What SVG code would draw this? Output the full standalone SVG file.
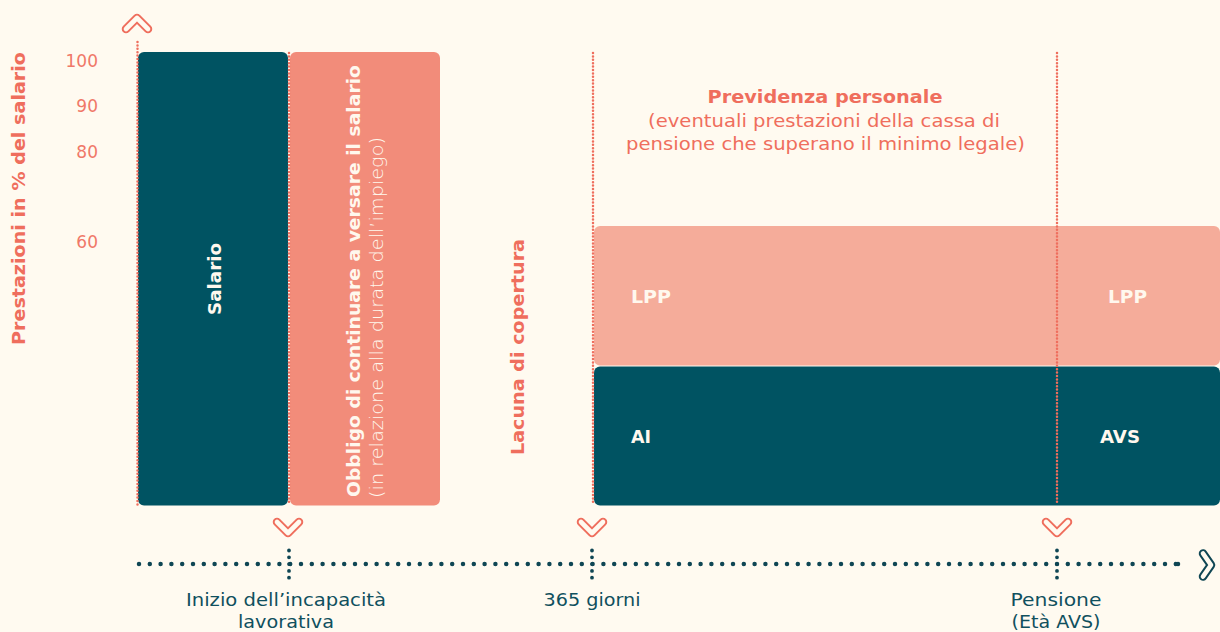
<svg xmlns="http://www.w3.org/2000/svg" width="1220" height="632" viewBox="0 0 1220 632">
<style>
.bg{fill:#FFFAF0}
.teal{fill:#005362}
.salmon{fill:#F28C7A}
.light{fill:#F5AC9A}
.t{font-family:"DejaVu Sans","Liberation Sans",sans-serif}
.b{font-weight:bold}
.ts{fill:#EF6E5D}
.tn{fill:#F07868}
.tw{fill:#FFF8EE}
.td{fill:#10505E}
.vdot{fill:none;stroke:#EF6E5D;stroke-width:2.5;stroke-dasharray:0 3.4;stroke-linecap:round}
.hdot{fill:none;stroke:#0F4654;stroke-width:4.5;stroke-dasharray:0 10.8;stroke-linecap:round}
.tick{fill:none;stroke:#0F4654;stroke-width:3.8;stroke-dasharray:0 6.8;stroke-linecap:round}
.chevO{fill:none;stroke-width:8.5;stroke-linecap:round;stroke-linejoin:round}
.chevI{fill:none;stroke:#FFFAF0;stroke-width:4.6;stroke-linecap:round;stroke-linejoin:round}
</style>
<defs>
<g id="chevDown"><path class="chevO" stroke="#EF6E5D" d="M-11 -6 L0 5 L11 -6"/><path class="chevI" d="M-11 -6 L0 5 L11 -6"/></g>
</defs>
<rect class="bg" x="0" y="0" width="1220" height="632"/>

<g id="axis-y">
<text class="t b ts" font-size="17.5" transform="translate(25,198.5) rotate(-90)" text-anchor="middle" textLength="293" lengthAdjust="spacingAndGlyphs">Prestazioni in % del salario</text>
<g class="t tn" font-size="17" text-anchor="end">
<text x="98" y="67">100</text>
<text x="98" y="112">90</text>
<text x="98" y="158">80</text>
<text x="98" y="248">60</text>
</g>
</g>

<g id="node-salario">
<rect class="teal" x="138" y="52" width="150" height="453.5" rx="6"/>
<text class="t b tw" font-size="17" transform="translate(221,279) rotate(-90)" text-anchor="middle" textLength="72" lengthAdjust="spacingAndGlyphs">Salario</text>
</g>

<g id="node-obbligo">
<rect class="salmon" x="290" y="52" width="150" height="453.5" rx="6"/>
<text class="t b tw" font-size="17.5" transform="translate(360,497) rotate(-90)" textLength="432" lengthAdjust="spacingAndGlyphs">Obbligo di continuare a versare il salario</text>
<text class="t tw" font-size="17" font-weight="300" transform="translate(383,498) rotate(-90)" textLength="361" lengthAdjust="spacingAndGlyphs">(in relazione alla durata dell’impiego)</text>
</g>

<g id="node-lacuna">
<text class="t b ts" font-size="17.5" transform="translate(524,347) rotate(-90)" text-anchor="middle" textLength="216" lengthAdjust="spacingAndGlyphs">Lacuna di copertura</text>
</g>

<g id="node-previdenza">
<text class="t b ts" font-size="18" x="825" y="103" text-anchor="middle" textLength="235" lengthAdjust="spacingAndGlyphs">Previdenza personale</text>
<text class="t ts" font-size="18" x="824" y="127" text-anchor="middle" textLength="352" lengthAdjust="spacingAndGlyphs">(eventuali prestazioni della cassa di</text>
<text class="t ts" font-size="18" x="825.5" y="150" text-anchor="middle" textLength="399" lengthAdjust="spacingAndGlyphs">pensione che superano il minimo legale)</text>
</g>

<g id="node-lpp">
<rect class="light" x="594" y="226" width="626" height="139.5" rx="6"/>
<text class="t b tw" font-size="17" x="631" y="303" textLength="40" lengthAdjust="spacingAndGlyphs">LPP</text>
<text class="t b tw" font-size="17" x="1108" y="303" textLength="39" lengthAdjust="spacingAndGlyphs">LPP</text>
</g>

<g id="node-ai-avs">
<rect class="teal" x="594" y="366.5" width="626" height="139" rx="6"/>
<text class="t b tw" font-size="17" x="631" y="443" textLength="20" lengthAdjust="spacingAndGlyphs">AI</text>
<text class="t b tw" font-size="17" x="1100" y="443" textLength="40" lengthAdjust="spacingAndGlyphs">AVS</text>
</g>

<g id="connectors">
<path class="vdot" d="M137.5 42 V505"/>
<path class="vdot" d="M289 53 V505"/>
<path class="vdot" d="M593 53 V505"/>
<path class="vdot" d="M1057 53 V505"/>
<path class="hdot" d="M139 564 H1182"/>
<path class="hdot" d="M1178 564 H1182"/>
<path class="tick" d="M289 550.5 V578"/>
<path class="tick" d="M592 550.5 V578"/>
<path class="tick" d="M1057 550.5 V578"/>
<g><path class="chevO" stroke="#EF6E5D" d="M126 29 L137 18 L148 29"/><path class="chevI" d="M126 29 L137 18 L148 29"/></g>
<use href="#chevDown" x="288" y="528"/>
<use href="#chevDown" x="592" y="528"/>
<use href="#chevDown" x="1057" y="528"/>
<g><path class="chevO" stroke="#0F4654" d="M1203 553.5 L1211 565 L1203 576.5"/><path class="chevI" d="M1203 553.5 L1211 565 L1203 576.5"/></g>
</g>

<g id="labels-x" class="t td" font-size="18" text-anchor="middle">
<text x="286" y="606" textLength="200" lengthAdjust="spacingAndGlyphs">Inizio dell’incapacità</text>
<text x="286" y="628" textLength="96" lengthAdjust="spacingAndGlyphs">lavorativa</text>
<text x="592" y="606" textLength="97" lengthAdjust="spacingAndGlyphs">365 giorni</text>
<text x="1056" y="606" textLength="91" lengthAdjust="spacingAndGlyphs">Pensione</text>
<text x="1056" y="628" textLength="89" lengthAdjust="spacingAndGlyphs">(Età AVS)</text>
</g>
</svg>
